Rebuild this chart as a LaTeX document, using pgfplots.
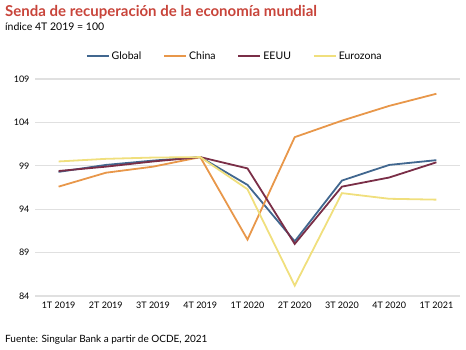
\documentclass[border=0pt]{standalone}
\usepackage{pgfplots}
\pgfplotsset{compat=1.18}
\usepackage{fontspec}
\setmainfont{Lato}
\definecolor{cglobal}{HTML}{41678F}
\definecolor{cchina}{HTML}{E8974A}
\definecolor{ceeuu}{HTML}{7A2E47}
\definecolor{ceuro}{HTML}{F0DF7D}
\definecolor{ctitle}{HTML}{C8443A}
\definecolor{cgrid}{HTML}{E0E0E0}
\begin{document}
\begin{tikzpicture}[x=1pt,y=1pt]
\begin{axis}[
  name=ax,
  scale only axis, width=425pt, height=217pt,
  xmin=-0.5, xmax=8.5, ymin=84, ymax=109,
  ytick={84,89,94,99,104,109},
  xtick={0,...,8},
  xticklabels={1T 2019,2T 2019,3T 2019,4T 2019,1T 2020,2T 2020,3T 2020,4T 2020,1T 2021},
  axis line style={draw=none},
  major tick length=0pt,
  ymajorgrids, grid style={cgrid, line width=1.3pt},
  tick label style={font=\fontsize{9}{11}\selectfont},
  /pgf/number format/assume math mode=true,
  /pgf/number format/1000 sep={},
  yticklabel style={xshift=-2pt},
  xticklabel style={yshift=-2pt},
  legend columns=4,
  legend style={draw=none, at={(0.47,1.105)}, anchor=center, font=\fontsize{10.5}{12}\selectfont,
    /tikz/every even column/.append style={column sep=20pt}},
  legend image code/.code={\draw[#1, line width=1.8pt] (0pt,0pt) -- (22pt,0pt);},
  every axis plot/.append style={line width=1.8pt},
  clip=false,
]
\addplot[cglobal] coordinates {(0,98.3)(1,99.1)(2,99.6)(3,100)(4,96.8)(5,90.3)(6,97.3)(7,99.1)(8,99.65)};
\addlegendentry{Global}
\addplot[cchina] coordinates {(0,96.6)(1,98.2)(2,98.9)(3,100)(4,90.5)(5,102.3)(6,104.2)(7,105.9)(8,107.3)};
\addlegendentry{China}
\addplot[ceeuu] coordinates {(0,98.4)(1,98.9)(2,99.5)(3,100)(4,98.7)(5,90.0)(6,96.6)(7,97.65)(8,99.4)};
\addlegendentry{EEUU}
\addplot[ceuro] coordinates {(0,99.5)(1,99.8)(2,99.95)(3,100)(4,96.3)(5,85.2)(6,95.85)(7,95.2)(8,95.1)};
\addlegendentry{Eurozona}
\end{axis}
\coordinate (O) at ([shift={(-35,-54)}]ax.south west);
\node[anchor=base west, inner sep=0, text=ctitle, font=\fontsize{15}{17}\selectfont\bfseries] at ([shift={(5,333)}]O) {Senda de recuperación de la economía mundial};
\node[anchor=base west, inner sep=0, font=\fontsize{10.5}{12}\selectfont] at ([shift={(5,319)}]O) {índice 4T 2019 = 100};
\node[anchor=base west, inner sep=0, font=\fontsize{10}{12}\selectfont] at ([shift={(5,7)}]O) {Fuente: Singular Bank a partir de OCDE, 2021};
\pgfresetboundingbox
\path[use as bounding box] (O) rectangle ([shift={(466,350)}]O);
\end{tikzpicture}
\end{document}
